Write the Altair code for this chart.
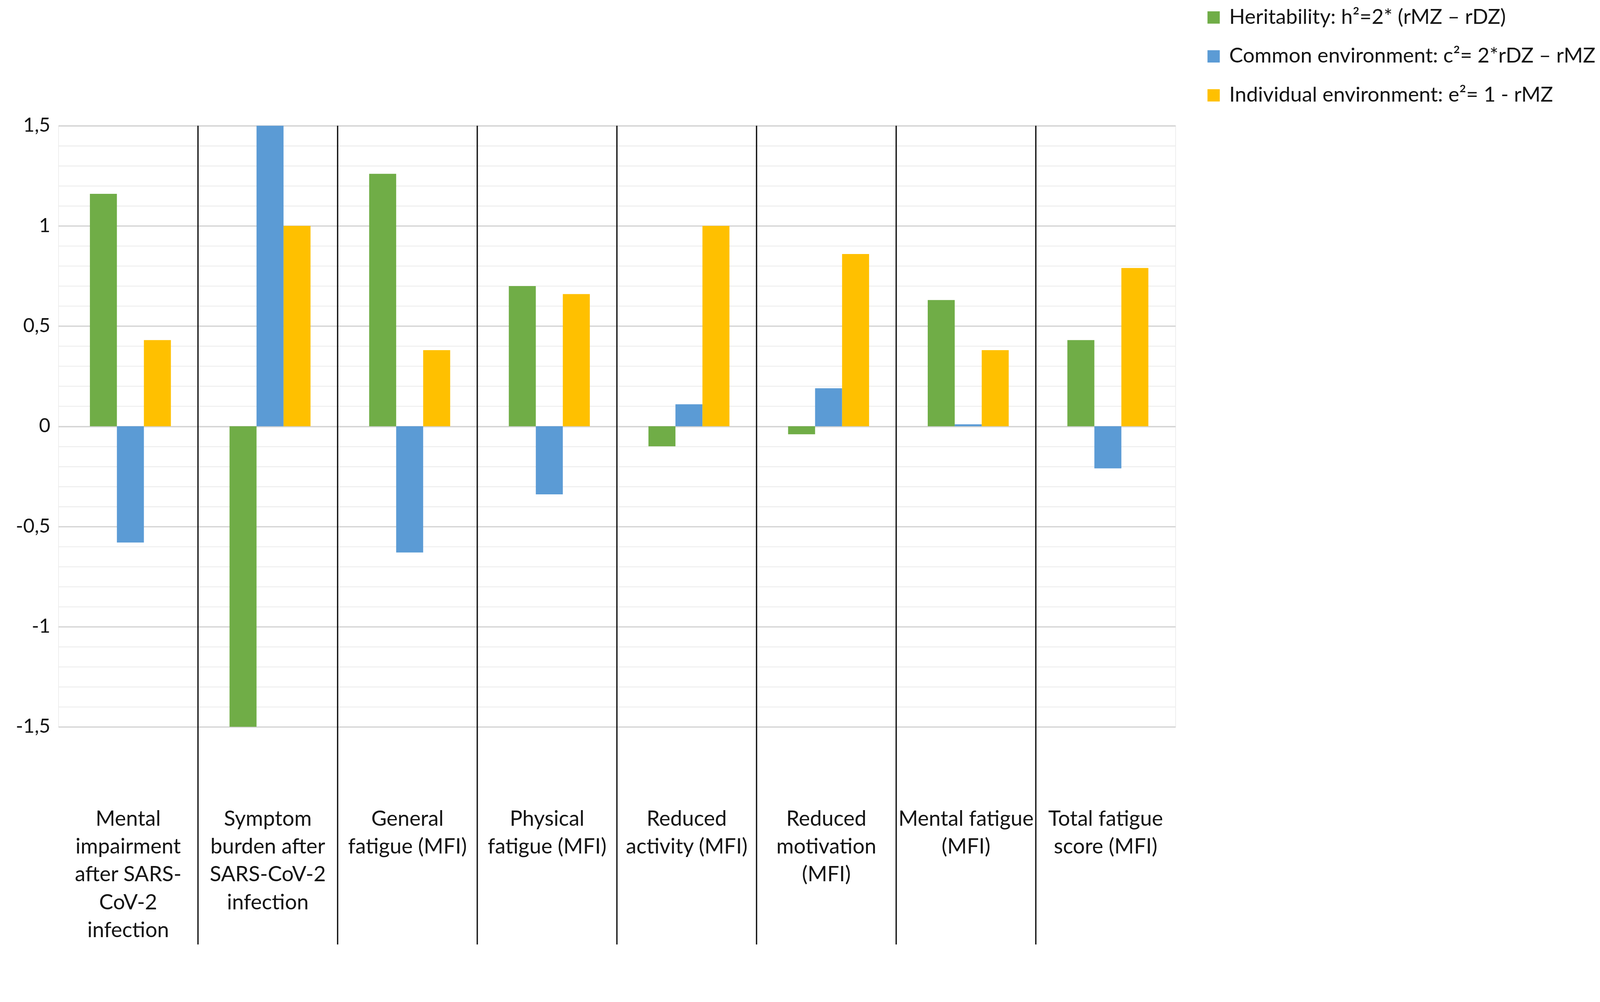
import altair as alt
import pandas as pd

categories = [
    "Mental impairment after SARS-CoV-2 infection",
    "Symptom burden after SARS-CoV-2 infection",
    "General fatigue (MFI)",
    "Physical fatigue (MFI)",
    "Reduced activity (MFI)",
    "Reduced motivation (MFI)",
    "Mental fatigue (MFI)",
    "Total fatigue score (MFI)",
]
label_lines = [
    ["Mental", "impairment", "after SARS-", "CoV-2", "infection"],
    ["Symptom", "burden after", "SARS-CoV-2", "infection"],
    ["General", "fatigue (MFI)"],
    ["Physical", "fatigue (MFI)"],
    ["Reduced", "activity (MFI)"],
    ["Reduced", "motivation", "(MFI)"],
    ["Mental fatigue", "(MFI)"],
    ["Total fatigue", "score (MFI)"],
]
series = [
    "Heritability: h²=2* (rMZ – rDZ)",
    "Common environment: c²= 2*rDZ – rMZ",
    "Individual environment: e²= 1 - rMZ",
]
heritability = [1.16, -1.50, 1.26, 0.70, -0.10, -0.04, 0.63, 0.43]
common_env = [-0.58, 1.50, -0.63, -0.34, 0.11, 0.19, 0.01, -0.21]
individual_env = [0.43, 1.00, 0.38, 0.66, 1.00, 0.86, 0.38, 0.79]
colors = ["#70AD47", "#5B9BD5", "#FFC000"]
y_ticks = [-1.5, -1.4, -1.3, -1.2, -1.1, -1.0, -0.9, -0.8, -0.7, -0.6,
           -0.5, -0.4, -0.3, -0.2, -0.1, 0.0, 0.1, 0.2, 0.3, 0.4,
           0.5, 0.6, 0.7, 0.8, 0.9, 1.0, 1.1, 1.2, 1.3, 1.4, 1.5]

FONT = "Lato"
TXT = "#141414"
W, H = 3014, 1621
BAND = W / len(categories)
GROUP = 0.58 * BAND

rows = []
for s, vals in zip(series, [heritability, common_env, individual_env]):
    for c, v in zip(categories, vals):
        rows.append({"cat": c, "series": s, "value": v})
bars_df = pd.DataFrame(rows)
labels_df = pd.DataFrame({"cat": categories, "lines": label_lines})
sep_df = pd.DataFrame({"cat": categories[1:]})

xscale = alt.Scale(domain=categories, paddingInner=0, paddingOuter=0)
major = "abs(datum.value*2 - round(datum.value*2)) < 0.001"

bars = alt.Chart(bars_df).mark_bar().encode(
    x=alt.X("cat:N", scale=xscale, axis=None),
    xOffset=alt.XOffset("series:N", sort=series,
                        scale=alt.Scale(domain=series, paddingInner=0, paddingOuter=0,
                                        range=[(BAND - GROUP) / 2 + 6, (BAND + GROUP) / 2 + 6])),
    y=alt.Y("value:Q",
            scale=alt.Scale(domain=[-1.5, 1.5], nice=False, zero=False),
            axis=alt.Axis(
                title=None, values=y_ticks, ticks=False, domain=False,
                labelFont=FONT, labelFontSize=53, labelColor=TXT, labelPadding=22,
                labelExpr="(" + major + ") ? ((datum.value < -0.001 ? '-' : '') + replace(format(abs(datum.value), '.2~f'), '.', ',')) : ''",
                gridColor={"condition": {"test": major, "value": "#d4d4d4"}, "value": "#ededed"},
                gridWidth={"condition": {"test": major, "value": 3.5}, "value": 2.5},
            )),
    color=alt.Color("series:N", sort=series,
                    scale=alt.Scale(domain=series, range=colors),
                    legend=alt.Legend(orient="none", legendX=3089, legendY=-320, title=None,
                                      labelFont=FONT, labelFontSize=56, labelColor=TXT,
                                      labelLimit=3000, symbolType="square", symbolSize=1100,
                                      symbolStrokeWidth=0, labelOffset=14, rowPadding=49)),
)

seps = alt.Chart(sep_df).mark_rule(color="#111111", strokeWidth=3.5).encode(
    x=alt.X("cat:N", scale=xscale, axis=None, bandPosition=0),
    y=alt.value(0),
    y2=alt.value(2208),
)

labels = alt.Chart(labels_df).mark_text(
    baseline="top", align="center", font=FONT, fontSize=57, lineHeight=75, color=TXT
).encode(
    x=alt.X("cat:N", scale=xscale, axis=None),
    y=alt.value(1843),
    text="lines",
)

chart = alt.layer(bars, seps, labels).properties(
    width=W, height=H,
    autosize=alt.AutoSizeParams(type="none"),
    padding={"left": 149, "top": 262, "right": 1137, "bottom": 665},
).configure_view(stroke=None).configure(background="white")

chart.save("out.html", embed_options={"renderer": "svg", "actions": False})
